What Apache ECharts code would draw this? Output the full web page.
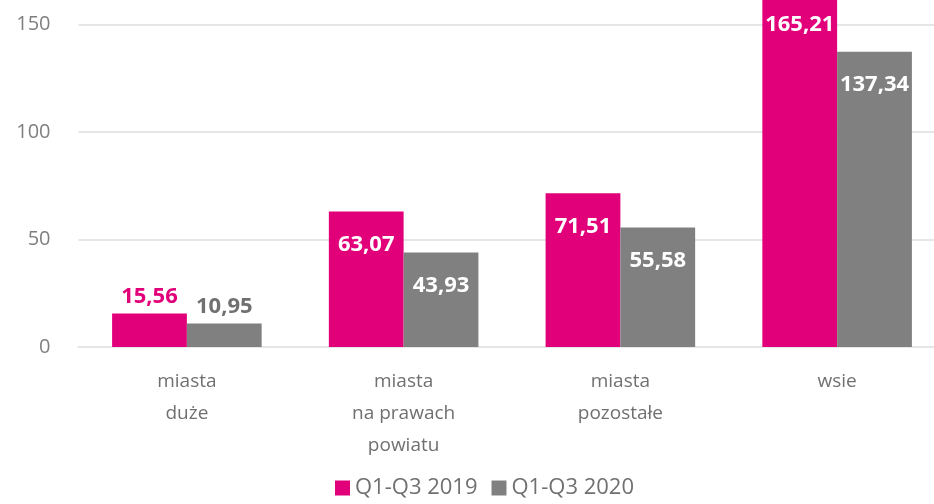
<!DOCTYPE html>
<html lang="pl">
<head>
  <meta charset="UTF-8">
  <title>wykres</title>
  <style>
    html, body { margin: 0; padding: 0; background: #fff; }
    #chart { width: 934px; height: 504px; }
  </style>
</head>
<body>
  <div id="chart"></div>
  <script src="https://cdn.jsdelivr.net/npm/echarts@6/dist/echarts.min.js"></script>
  <script>
    var categories = ['miasta\nduże', 'miasta\nna prawach\npowiatu', 'miasta\npozostałe', 'wsie'];
    var seriesNames = ['Q1-Q3 2019', 'Q1-Q3 2020'];
    var values2019 = [15.56, 63.07, 71.51, 165.21];
    var values2020 = [10.95, 43.93, 55.58, 137.34];

    var PINK = '#e2007a';
    var GREY = '#808080';
    var FONT = '"Open Sans", sans-serif';

    function fmt(p) {
      return p.value.toFixed(2).replace('.', ',');
    }

    // small bars get the label above, in the bar colour
    function barData(vals, color) {
      return vals.map(function (v) {
        if (v < 30) {
          return {
            value: v,
            label: { position: 'top', distance: 6, color: color }
          };
        }
        return v;
      });
    }

    var chart = echarts.init(document.getElementById('chart'));
    chart.setOption({
      animation: false,
      textStyle: { fontFamily: FONT },
      // plot runs a bit past the right edge, last bar past the top
      grid: { left: 78.5, width: 867, top: 24.5, bottom: 157, outerBoundsMode: 'none', containLabel: false },
      legend: {
        left: 330,
        bottom: 0,
        itemWidth: 15,
        itemHeight: 15,
        itemGap: 14,
        icon: 'rect',
        textStyle: { fontSize: 22, color: '#707070', fontFamily: FONT },
        data: seriesNames
      },
      xAxis: {
        type: 'category',
        data: categories,
        axisLine: { lineStyle: { color: '#e6e6e6', width: 2 } },
        axisTick: { show: false },
        axisLabel: {
          fontSize: 19,
          color: '#707070',
          lineHeight: 32,
          margin: 19,
          interval: 0
        }
      },
      yAxis: {
        type: 'value',
        min: 0,
        max: 150,
        interval: 50,
        axisLine: { show: false },
        axisTick: { show: false },
        splitLine: { lineStyle: { color: '#e6e6e6', width: 2 } },
        axisLabel: { fontSize: 20, color: '#7f7f7f', margin: 28 }
      },
      series: [
        {
          name: seriesNames[0],
          type: 'bar',
          clip: false,
          barGap: '0%',
          barCategoryGap: '31%',
          itemStyle: { color: PINK },
          label: {
            show: true,
            position: 'insideTop',
            distance: 22,
            color: '#fff',
            fontWeight: 'bold',
            fontSize: 22,
            formatter: fmt
          },
          data: barData(values2019, PINK)
        },
        {
          name: seriesNames[1],
          type: 'bar',
          clip: false,
          itemStyle: { color: GREY },
          label: {
            show: true,
            position: 'insideTop',
            distance: 22,
            color: '#fff',
            fontWeight: 'bold',
            fontSize: 22,
            formatter: fmt
          },
          data: barData(values2020, '#707070')
        }
      ]
    });
  </script>
</body>
</html>
